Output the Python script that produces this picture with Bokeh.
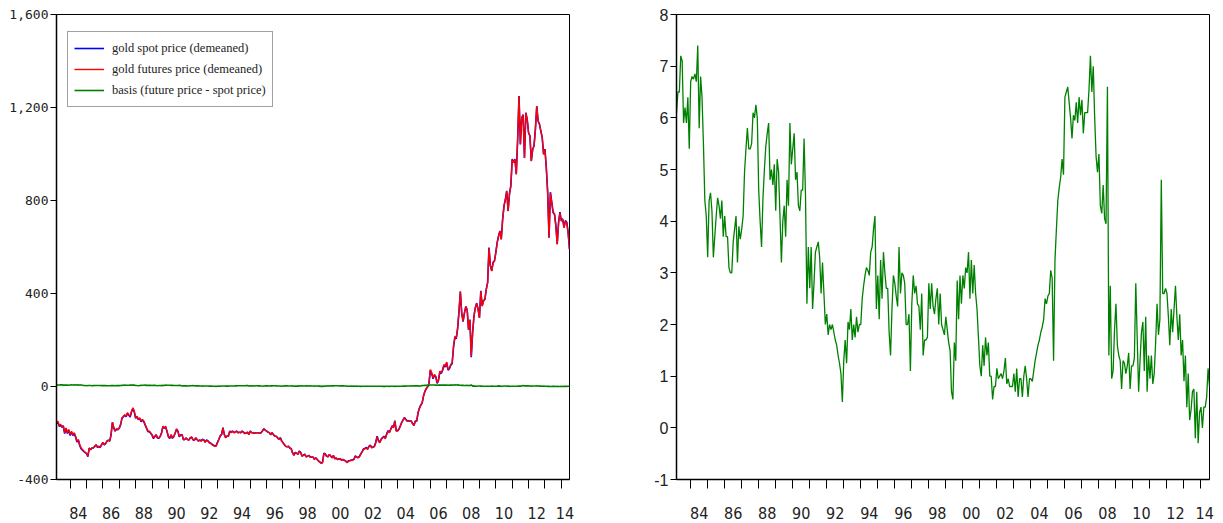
import numpy as np
from bokeh.plotting import figure
from bokeh.layouts import row
from bokeh.models import FixedTicker, Legend, LegendItem, Range1d, ColumnDataSource
from bokeh.embed import file_html
from bokeh.resources import INLINE

# ---------------- data (monthly, 1983M03 .. 2014M07) ----------------
start_year = 1983
start_month = 3

basis = [
    6.1, 6.5, 6.5, 7.2, 7.1, 5.9, 6.2, 5.9, 6.4, 5.4, 6.7, 6.8,
    6.75, 6.85, 6.7, 7.4, 5.8, 6.8, 6.4, 5.5, 4.4, 4.1, 3.3, 4.4,
    4.55, 4.2, 3.3, 3.7, 4.1, 4.45, 4.3, 4.05, 4.4, 3.7, 4.1, 3.7,
    3.7, 3.1, 3.0, 3.0, 3.6, 3.85, 4.1, 3.2, 3.9, 3.65, 3.85, 4.1,
    4.95, 5.4, 5.8, 5.4, 5.4, 5.5, 6.1, 6.0, 6.25, 6.0, 4.6, 4.0,
    3.5, 4.45, 5.0, 5.45, 5.7, 5.9, 4.8, 5.0, 4.7, 5.1, 4.2, 5.2,
    4.95, 4.1, 3.2, 4.0, 4.3, 3.7, 4.8, 4.3, 5.9, 5.1, 5.4, 5.7,
    4.8, 4.95, 4.3, 4.2, 4.6, 4.6, 5.6, 4.5, 2.4, 3.5, 2.7, 3.5,
    2.3, 2.8, 3.4, 3.5, 3.6, 3.3, 2.6, 3.2, 2.6, 2.0, 2.2, 1.8,
    2.0, 1.9, 2.0, 1.85, 1.7, 1.6, 1.4, 1.25, 1.05, 0.5, 1.3, 1.7,
    1.25, 2.05, 1.9, 2.3, 1.7, 2.0, 1.75, 2.15, 1.85, 2.0, 2.0, 2.5,
    2.75, 2.95, 3.1, 3.05, 2.95, 3.4, 3.5, 3.85, 4.1, 2.3, 2.95, 2.1,
    3.25, 2.5, 3.4, 3.0, 2.7, 2.7, 1.85, 1.4, 2.3, 2.95, 2.8, 2.55,
    2.35, 3.5, 2.6, 3.0, 2.95, 2.8, 2.0, 2.0, 2.2, 1.1, 2.4, 2.95,
    2.6, 2.75, 2.4, 2.35, 1.9, 2.6, 1.4, 1.7, 1.7, 1.75, 2.8, 2.3,
    2.8, 2.35, 2.2, 2.5, 2.7, 2.0, 2.6, 2.0, 1.9, 1.8, 2.15, 1.9,
    1.65, 1.5, 0.7, 0.55, 1.65, 1.3, 2.85, 2.1, 2.95, 2.4, 2.95, 2.7,
    3.1, 3.0, 3.4, 2.5, 3.25, 2.6, 3.15, 2.6, 2.3, 1.75, 1.2, 1.0,
    1.6, 1.2, 1.75, 1.4, 1.65, 1.0, 1.0, 0.55, 0.8, 0.8, 1.15, 0.95,
    1.0, 1.05, 0.95, 1.1, 1.35, 0.85, 0.95, 0.8, 0.8, 0.8, 1.05, 0.7,
    1.15, 0.6, 0.95, 0.95, 0.6, 1.0, 1.2, 0.95, 0.6, 0.95, 0.95, 0.9,
    1.1, 1.3, 1.45, 1.6, 1.7, 1.85, 1.95, 2.1, 2.5, 2.4, 2.55, 2.6,
    3.05, 2.9, 1.3, 3.25, 3.85, 4.4, 4.65, 4.85, 5.2, 4.9, 6.4, 6.5,
    6.6, 6.3, 6.0, 5.6, 6.05, 5.95, 6.3, 5.9, 6.4, 6.05, 6.35, 5.7,
    6.1, 6.1, 6.1, 6.55, 7.2, 6.5, 7.0, 6.0, 5.25, 4.95, 5.3, 4.3,
    4.15, 4.7, 4.05, 3.95, 6.6, 1.4, 2.75, 0.95, 1.1, 1.9, 2.4, 1.6,
    1.4, 1.3, 0.75, 1.3, 1.25, 1.05, 1.2, 1.45, 0.75, 1.2, 1.2, 1.35,
    2.8, 1.75, 0.7, 1.3, 1.85, 2.05, 1.1, 2.15, 0.7, 1.4, 0.95, 1.4,
    0.85, 1.05, 1.65, 2.4, 1.8, 2.1, 4.8, 2.6, 2.6, 2.7, 2.6, 2.15,
    1.6, 2.3, 1.85, 2.3, 2.75, 2.15, 1.7, 2.2, 1.4, 1.7, 0.9, 1.4,
    0.4, 1.05, 0.15, 0.35, 0.7, 0.75, -0.2, 0.7, -0.3, 0.3, 0.4, 0.0,
    0.4, 0.4, 0.6, 1.15, 0.8,
]

gold_futures_dm = [
    -156, -149, -168, -163, -171, -168, -199, -178, -199, -185, -207, -192,
    -207, -199, -214, -235, -228, -250, -264, -271, -278, -283, -288, -300,
    -264, -271, -264, -264, -257, -250, -260, -257, -261, -250, -240, -250,
    -245, -235, -231, -235, -207, -153, -178, -192, -182, -185, -178, -163,
    -135, -128, -121, -128, -113, -121, -128, -106, -92, -106, -135, -128,
    -142, -135, -149, -142, -149, -163, -178, -192, -192, -199, -207, -221,
    -214, -207, -221, -221, -214, -199, -171, -178, -171, -192, -214, -221,
    -207, -221, -214, -199, -182, -192, -214, -207, -207, -228, -228, -221,
    -228, -231, -221, -217, -228, -231, -221, -228, -235, -231, -235, -228,
    -231, -240, -231, -235, -242, -245, -250, -254, -257, -257, -242, -228,
    -214, -207, -178, -207, -221, -214, -214, -192, -199, -192, -199, -196,
    -192, -199, -196, -199, -192, -196, -202, -199, -196, -207, -192, -199,
    -199, -202, -199, -199, -199, -202, -199, -192, -182, -188, -192, -196,
    -199, -207, -199, -207, -214, -214, -221, -228, -221, -235, -242, -250,
    -257, -260, -257, -265, -268, -285, -297, -285, -288, -292, -278, -285,
    -300, -296, -292, -303, -300, -297, -304, -304, -304, -314, -307, -314,
    -321, -326, -331, -328, -288, -292, -300, -303, -292, -300, -307, -297,
    -311, -307, -314, -312, -311, -317, -314, -318, -321, -328, -321, -320,
    -318, -317, -314, -300, -305, -307, -303, -292, -282, -271, -268, -264,
    -271, -259, -254, -264, -262, -259, -242, -216, -235, -242, -228, -222,
    -216, -225, -206, -192, -199, -185, -171, -178, -149, -192, -192, -185,
    -171, -156, -145, -135, -142, -149, -149, -149, -149, -160, -168, -149,
    -149, -113, -95, -80, -70, -40, -20, -8, 0, 15, 73, 59,
    37, 52, 44, 16, 30, 66, 59, 73, 95, 87, 105, 73,
    80, 95, 102, 173, 216, 209, 252, 324, 410, 317, 281, 317,
    345, 331, 245, 288, 130, 231, 303, 338, 357, 331, 295, 410,
    345, 367, 374, 417, 446, 596, 518, 496, 532, 539, 575, 618,
    647, 668, 632, 718, 776, 804, 840, 754, 826, 862, 976, 962,
    976, 912, 1062, 1249, 1041, 1156, 1170, 983, 1177, 1148, 1091, 1077,
    969, 1019, 1034, 1105, 1206, 1141, 1127, 1098, 1070, 998, 1019, 940,
    833, 639, 833, 790, 747, 740, 690, 611, 704, 747, 711, 718,
    682, 711, 704, 660, 590,
]

tick_years = list(range(1984, 2015))
label_years = list(range(1984, 2015, 2))
labels = ["%02d" % (y % 100) for y in label_years]

left_yticks = [-400, 0, 400, 800, 1200, 1600]
left_ylabels = ["-400", "0", "400", "800", "1,200", "1,600"]
right_yticks = list(range(-1, 9))
right_ylabels = ["-1", "0", "1", "2", "3", "4", "5", "6", "7", "8"]

legend_labels = ["gold spot price (demeaned)",
                 "gold futures price (demeaned)",
                 "basis (future price - spot price)"]

# ---------------- derived ----------------
n = len(basis)
b = np.array(basis, dtype=float)
fut = np.array(gold_futures_dm[:n], dtype=float)
spot = fut - (b - b.mean())          # spot = futures - basis, demeaned
t = start_year + (start_month - 1 + np.arange(n)) / 12.0
src = ColumnDataSource(dict(t=t, fut=fut, spot=spot, basis=b))

x0, x1 = t[0], t[-1]
label_pos = [min(y + 0.5, x1 - 0.28) for y in label_years]

TICK_FONT_X = "Liberation Sans Narrow, DejaVu Sans Condensed, sans-serif"


def style(p, yticks, ylabels, yfont, yfont_size):
    p.background_fill_color = "white"
    p.border_fill_color = "white"
    p.outline_line_color = "black"
    p.outline_line_width = 1
    p.grid.visible = False
    xa = p.xaxis[0]
    xa.ticker = FixedTicker(ticks=label_pos, minor_ticks=tick_years)
    xa.major_label_overrides = {pos: lab for pos, lab in zip(label_pos, labels)}
    xa.major_tick_line_color = None
    xa.major_tick_out = 0
    xa.major_tick_in = 0
    xa.minor_tick_out = 9
    xa.minor_tick_in = 0
    xa.minor_tick_line_color = "black"
    xa.minor_tick_line_width = 1
    xa.axis_line_color = "black"
    xa.axis_line_width = 1.5
    xa.major_label_standoff = 18
    xa.major_label_text_font = TICK_FONT_X
    xa.major_label_text_font_size = "16px"
    xa.major_label_text_color = "#222222"
    ya = p.yaxis[0]
    ya.ticker = FixedTicker(ticks=yticks)
    ya.major_label_overrides = {v: s for v, s in zip(yticks, ylabels)}
    ya.major_tick_out = 6
    ya.major_tick_in = 0
    ya.major_tick_line_color = "black"
    ya.minor_tick_line_color = None
    ya.axis_line_color = "black"
    ya.axis_line_width = 1.5
    ya.major_label_standoff = 2
    ya.major_label_text_font = yfont
    ya.major_label_text_font_size = yfont_size
    ya.major_label_text_color = "#222222"


p1 = figure(frame_width=513, frame_height=465,
            min_border_left=56, min_border_right=50, min_border_top=14, min_border_bottom=38,
            x_range=Range1d(x0, x1), y_range=Range1d(-400, 1600),
            output_backend="svg", toolbar_location=None)
style(p1, left_yticks, left_ylabels, "DejaVu Sans Mono", "13px")

r_spot = p1.line("t", "spot", source=src, color="#0000FF", line_width=1.6)
r_fut = p1.line("t", "fut", source=src, color="#FF0000", line_width=1.4)
r_bas = p1.line("t", "basis", source=src, color="#008000", line_width=1.6)

legend = Legend(items=[LegendItem(label=legend_labels[0], renderers=[r_spot]),
                       LegendItem(label=legend_labels[1], renderers=[r_fut]),
                       LegendItem(label=legend_labels[2], renderers=[r_bas])],
                location=(11, 372))
legend.border_line_color = "#444444"
legend.border_line_width = 1
legend.background_fill_color = "white"
legend.background_fill_alpha = 1
legend.glyph_width = 30
legend.glyph_height = 20
legend.label_height = 20
legend.spacing = 1
legend.padding = 6
legend.margin = 0
legend.label_standoff = 8
legend.label_text_font = "Liberation Serif"
legend.label_text_font_size = "12.5px"
legend.label_text_color = "#222222"
p1.add_layout(legend)

p2 = figure(frame_width=533, frame_height=465,
            min_border_left=57, min_border_right=8, min_border_top=14, min_border_bottom=38,
            x_range=Range1d(x0, x1), y_range=Range1d(-1, 8),
            output_backend="svg", toolbar_location=None)
style(p2, right_yticks, right_ylabels, "Liberation Sans", "16px")
p2.line("t", "basis", source=src, color="#008000", line_width=1.3)

layout = row(p1, p2)
open("out.html", "w").write(file_html(layout, INLINE))
